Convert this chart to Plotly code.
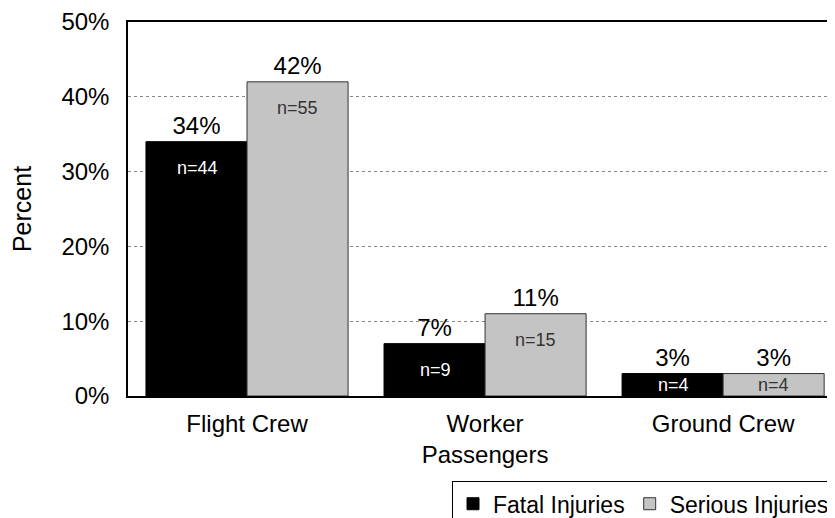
import plotly.graph_objects as go

categories = ["Flight Crew", "Worker<br>Passengers", "Ground Crew"]
fatal_pct = [34, 7, 3]
serious_pct = [42, 11, 3]
fatal_n = [44, 9, 4]
serious_n = [55, 15, 4]
y_ticks = [0, 10, 20, 30, 40, 50]

FONT = "Liberation Sans, Arial, sans-serif"

fig = go.Figure()
fig.add_trace(go.Bar(
    name="Fatal Injuries", x=categories, y=fatal_pct,
    marker=dict(color="black", line=dict(color="black", width=1)),
    text=[f"{v}%" for v in fatal_pct], textposition="outside",
    textfont=dict(size=24, color="black"), cliponaxis=False, constraintext="none",
))
fig.add_trace(go.Bar(
    name="Serious Injuries", x=categories, y=serious_pct,
    marker=dict(color="#c4c4c4", line=dict(color="#333333", width=1)),
    text=[f"{v}%" for v in serious_pct], textposition="outside",
    textfont=dict(size=24, color="black"), cliponaxis=False, constraintext="none",
))

# n= labels inside the bars, a bit below the top
for cat, v, n in zip(categories, fatal_pct, fatal_n):
    fig.add_annotation(x=cat, y=v - min(3.5, v / 2), xshift=-50, text=f"n={n}",
                       showarrow=False, font=dict(size=18, color="white"))
for cat, v, n in zip(categories, serious_pct, serious_n):
    fig.add_annotation(x=cat, y=v - min(3.5, v / 2), xshift=50, text=f"n={n}",
                       showarrow=False, font=dict(size=18, color="#333333"))

# page body adds an 8px offset, margins compensate for it
fig.update_layout(
    width=835, height=518,
    margin=dict(l=120, r=8, t=14, b=130, autoexpand=False),
    plot_bgcolor="white", paper_bgcolor="white",
    font=dict(family=FONT, size=24, color="black"),
    barmode="group", bargap=0.151, bargroupgap=0,
    legend=dict(orientation="h", x=1.0, xanchor="right", y=-0.228, yanchor="top",
                bordercolor="black", borderwidth=1, font=dict(size=23),
                traceorder="normal", itemwidth=30),
    showlegend=True,
)
fig.update_xaxes(
    range=[-0.5, 2.47], showline=True, linecolor="black", linewidth=1.5,
    mirror=True, ticks="", ticklabelstandoff=5, tickfont=dict(size=24),
    automargin=False,
)
fig.update_yaxes(
    range=[0, 50], tickvals=y_ticks, ticktext=[f"{t}%" for t in y_ticks],
    showline=True, linecolor="black", linewidth=1.5,
    showgrid=True, gridcolor="#888888", griddash="dot", gridwidth=1,
    zeroline=False, ticks="", ticklabelstandoff=12, tickfont=dict(size=24),
    ticklabeloverflow="allow",
    title=dict(text="Percent", font=dict(size=25), standoff=34),
    automargin=False,
)

fig.write_html("out.html")
